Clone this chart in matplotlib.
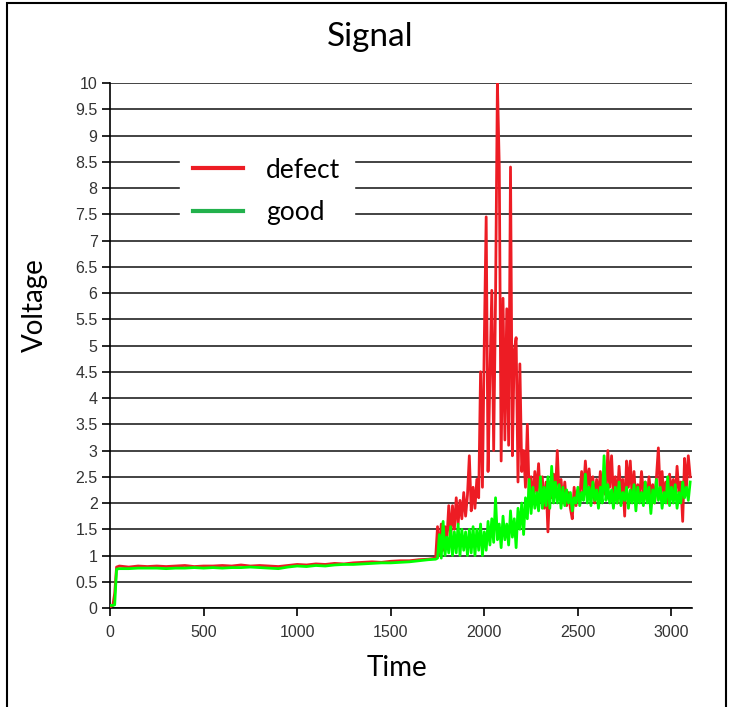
import matplotlib.pyplot as plt
from matplotlib.lines import Line2D
from matplotlib.patches import Rectangle

# start-up and slow drift (0 .. 1740)
t_start = [0, 15, 25, 35, 50, 100, 150, 200, 250, 300, 350, 400, 450, 500, 550, 600, 650,
           700, 750, 800, 850, 900, 950, 1000, 1050, 1100, 1150, 1200, 1250, 1300, 1350,
           1400, 1450, 1500, 1550, 1600, 1650, 1700, 1740]
defect_start = [0.02, 0.05, 0.28, 0.78, 0.80, 0.78, 0.80, 0.79, 0.80, 0.79, 0.80, 0.81, 0.79,
                0.80, 0.80, 0.81, 0.80, 0.82, 0.80, 0.81, 0.80, 0.79, 0.81, 0.83, 0.82, 0.84,
                0.83, 0.85, 0.84, 0.86, 0.87, 0.88, 0.87, 0.89, 0.90, 0.90, 0.92, 0.93, 0.95]
good_start = [0.05, 0.05, 0.06, 0.74, 0.75, 0.75, 0.76, 0.76, 0.76, 0.75, 0.76, 0.76, 0.77,
              0.76, 0.77, 0.76, 0.77, 0.77, 0.78, 0.77, 0.76, 0.75, 0.78, 0.80, 0.79, 0.81,
              0.80, 0.82, 0.83, 0.83, 0.84, 0.85, 0.86, 0.86, 0.87, 0.88, 0.90, 0.92, 0.93]

# noisy part, sampled every 10 (1750 .. 3100)
t_noisy = list(range(1750, 3110, 10))
defect_noisy = [
    1.55, 1.00, 1.60, 1.10, 1.55, 1.30, 1.95, 1.35, 1.95, 1.50,
    2.10, 1.60, 2.05, 1.70, 2.20, 1.75, 2.15, 2.90, 1.85, 2.30,
    1.90, 2.45, 2.10, 4.50, 2.30, 5.10, 7.45, 2.60, 4.40, 6.05,
    3.00, 5.90, 10.0, 8.40, 2.80, 5.90, 3.20, 5.70, 3.10, 8.40,
    2.90, 4.90, 5.15, 2.40, 4.65, 2.60, 3.00, 2.30, 3.50, 2.10,
    2.50, 2.00, 2.60, 2.20, 2.75, 2.05, 2.50, 1.90, 2.40, 1.45,
    2.30, 2.10, 2.55, 2.20, 3.00, 2.10, 2.45, 2.00, 2.40, 1.95,
    2.20, 1.90, 1.70, 2.30, 1.95, 2.25, 2.10, 2.60, 2.20, 2.80,
    2.30, 2.65, 2.20, 2.50, 2.00, 2.45, 2.10, 2.60, 2.20, 2.40,
    2.15, 3.00, 2.30, 2.90, 2.10, 2.50, 2.00, 2.70, 2.20, 2.45,
    1.75, 2.80, 2.30, 2.80, 2.10, 2.60, 2.00, 2.35, 2.10, 2.60,
    2.20, 2.40, 2.05, 2.50, 2.15, 2.35, 2.00, 2.50, 3.05, 2.20,
    2.60, 2.10, 2.40, 2.00, 2.55, 2.20, 2.45, 2.10, 2.70, 2.20,
    2.40, 1.65, 2.85, 2.30, 2.90, 2.50]
good_noisy = [
    0.95, 1.40, 0.95, 1.65, 1.00, 1.35, 1.05, 1.55, 1.00, 1.45,
    1.05, 1.60, 1.00, 1.50, 1.10, 1.45, 1.00, 1.50, 1.05, 1.55,
    1.00, 1.50, 1.10, 1.60, 1.00, 1.45, 1.10, 1.65, 1.20, 1.70,
    1.25, 2.10, 1.30, 1.60, 1.15, 1.75, 1.30, 1.60, 1.20, 1.85,
    1.35, 1.70, 1.15, 1.90, 1.50, 2.00, 1.40, 2.10, 1.70, 2.45,
    1.80, 2.30, 1.90, 2.20, 1.85, 2.50, 1.90, 2.30, 1.95, 2.50,
    1.90, 2.70, 2.00, 2.40, 2.00, 2.35, 1.90, 2.30, 1.95, 2.25,
    2.00, 2.20, 1.85, 2.10, 2.00, 2.30, 1.95, 2.20, 2.05, 2.55,
    2.00, 2.30, 1.95, 2.40, 2.05, 2.25, 1.90, 2.30, 2.00, 2.90,
    2.05, 2.35, 2.00, 2.25, 1.90, 2.30, 2.00, 2.40, 1.95, 2.20,
    2.05, 2.30, 1.90, 2.25, 2.00, 2.35, 1.85, 2.30, 2.00, 2.20,
    1.95, 2.40, 2.00, 2.30, 1.80, 2.25, 2.00, 2.45, 2.05, 2.30,
    1.90, 2.20, 2.00, 2.50, 1.95, 2.30, 2.00, 2.35, 1.90, 2.20,
    2.00, 2.40, 2.10, 2.30, 2.05, 2.40]

time = t_start + t_noisy
defect = defect_start + defect_noisy
good = good_start + good_noisy

red = '#ed1c24'
green = '#00ff00'

plt.rcParams['font.family'] = ['Lato', 'DejaVu Sans']

fig = plt.figure(figsize=(7.3, 7.07), dpi=100)
ax = fig.add_axes([0.1507, 0.140, 0.7973, 0.7426])

ax.plot(time, defect, color=red, lw=2, zorder=3)
ax.plot(time, good, color=green, lw=2, zorder=4)

ax.set_xlim(0, 3110)
ax.set_ylim(0, 10)
ax.set_xticks(range(0, 3001, 500))
yt = [i * 0.5 for i in range(21)]
ax.set_yticks(yt)
ax.set_yticklabels([('%g' % v) for v in yt])
ax.yaxis.grid(True, color='#222222', lw=1.2)
ax.set_axisbelow(True)
for s in ['top', 'right']:
    ax.spines[s].set_visible(False)
ax.spines['left'].set_linewidth(1.2)
ax.spines['bottom'].set_linewidth(1.2)
ax.tick_params(axis='both', labelsize=11.5, length=6, width=1.2, pad=3)
ax.tick_params(axis='x', pad=6)
for lab in ax.get_xticklabels() + ax.get_yticklabels():
    lab.set_family(['Liberation Sans', 'DejaVu Sans'])
    lab.set_color('#333333')

handles = [Line2D([], [], color=red, lw=3), Line2D([], [], color='#22b14c', lw=3)]
leg = ax.legend(handles, ['defect', 'good'], loc='upper left', bbox_to_anchor=(0.1203, 0.883),
                fontsize=19, frameon=True, fancybox=False, framealpha=1,
                handlelength=1.9, handletextpad=0.87, labelspacing=0.65,
                borderpad=0.5, borderaxespad=0)
leg.get_frame().set_edgecolor('white')
leg.get_frame().set_facecolor('white')

fig.text(0.507, 0.948, 'Signal', ha='center', va='center', fontsize=24)
fig.text(0.048, 0.569, 'Voltage', ha='center', va='center', rotation=90, fontsize=20)
fig.text(0.544, 0.055, 'Time', ha='center', va='center', fontsize=20)

fig.patches.append(Rectangle((0.0096, -0.02), 0.985, 1.0158, transform=fig.transFigure,
                             fill=False, lw=1.5, edgecolor='black'))

fig.savefig('out.png')
